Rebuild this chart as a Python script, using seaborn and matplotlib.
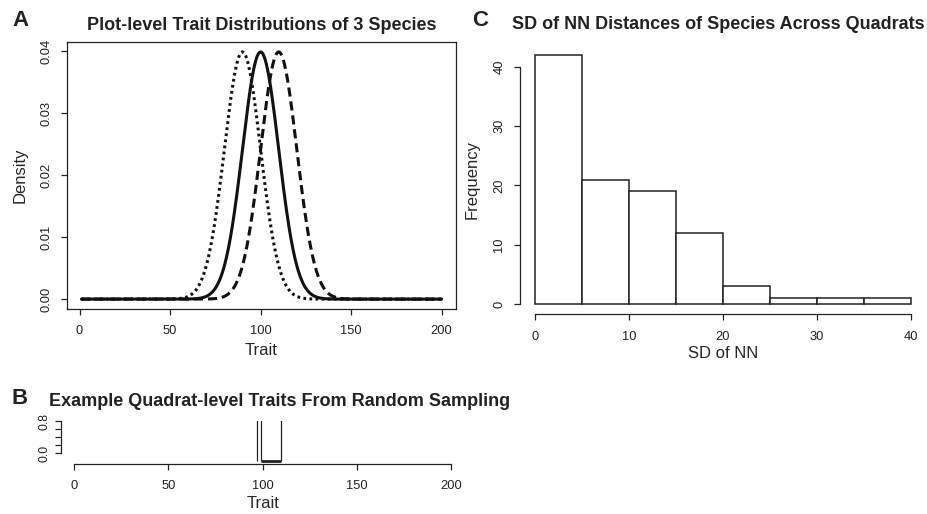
import numpy as np
import pandas as pd
import matplotlib
matplotlib.use("Agg")
import matplotlib.pyplot as plt
import seaborn as sns

# ---------------- data ----------------
# Panel A: three species trait distributions (normal densities)
species = ["sp1", "sp2", "sp3"]
species_means = [90, 100, 110]
species_sds = [10, 10, 10]
species_styles = ["dotted", "solid", "dashed"]
trait_min, trait_max = 1, 200

# Panel B: example quadrat-level traits
quadrat_traits = [97, 99, 110]

# Panel C: histogram of SD of NN distances
bin_edges = [0, 5, 10, 15, 20, 25, 30, 35, 40]
bin_counts = [42, 21, 19, 12, 3, 1, 1, 1]

# ---------------- style ----------------
sns.set_style("ticks")
plt.rcParams["font.family"] = ["Liberation Sans", "DejaVu Sans"]
plt.rcParams["axes.linewidth"] = 0.9
plt.rcParams["xtick.major.width"] = 0.9
plt.rcParams["ytick.major.width"] = 0.9
plt.rcParams["xtick.major.size"] = 4.5
plt.rcParams["ytick.major.size"] = 4.5
plt.rcParams["xtick.color"] = "#222222"
plt.rcParams["ytick.color"] = "#222222"
plt.rcParams["axes.edgecolor"] = "#222222"
plt.rcParams["text.color"] = "#222222"

W, H = 928, 514
fig = plt.figure(figsize=(W / 100, H / 100), dpi=100)


def ax_px(left, top, right, bottom):
    return fig.add_axes([left / W, 1 - bottom / H, (right - left) / W, (bottom - top) / H])


TICK_FS = 9.3
LABEL_FS = 12
TITLE_FS = 13
LETTER_FS = 16

# ---------------- Panel A ----------------
axA = ax_px(67, 42, 456, 309)
x = np.linspace(trait_min, trait_max, 400)
rows = []
for name, m, s in zip(species, species_means, species_sds):
    d = np.exp(-0.5 * ((x - m) / s) ** 2) / (s * np.sqrt(2 * np.pi))
    rows.append(pd.DataFrame({"Trait": x, "Density": d, "species": name}))
dfA = pd.concat(rows, ignore_index=True)
dash_map = {"dotted": (0.9, 1.1), "solid": "", "dashed": (3.0, 1.6)}
sns.lineplot(data=dfA, x="Trait", y="Density", style="species",
             dashes={n: dash_map[st] for n, st in zip(species, species_styles)},
             color="#111111", linewidth=2.2, legend=False, ax=axA, sort=False)
span = trait_max - trait_min
axA.set_xlim(trait_min - 0.04 * span, trait_max + 0.04 * span)
ymaxA = max(1 / (s * np.sqrt(2 * np.pi)) for s in species_sds)
axA.set_ylim(-0.04 * ymaxA, ymaxA * 1.04)
axA.set_xticks([0, 50, 100, 150, 200])
axA.set_yticks([0.00, 0.01, 0.02, 0.03, 0.04])
axA.set_yticklabels(["0.00", "0.01", "0.02", "0.03", "0.04"], rotation=90, va="center")
axA.tick_params(labelsize=TICK_FS, pad=6)
axA.tick_params(axis="x", pad=7)
axA.set_xlabel("Trait", fontsize=LABEL_FS, labelpad=4)
axA.set_ylabel("Density", fontsize=LABEL_FS, labelpad=9)
for sp in axA.spines.values():
    sp.set_visible(True)

# ---------------- Panel B ----------------
axB = ax_px(61, 421, 466, 464)
axB.vlines(quadrat_traits, -0.2, 1.0, color="#222222", linewidth=0.9)
axB.hlines(-0.2, min(quadrat_traits[1:]), max(quadrat_traits), color="#222222", linewidth=2.0)
axB.set_xlim(trait_min - 0.04 * span, trait_max + 0.04 * span)
axB.set_ylim(-0.275, 0.8)
axB.set_xticks([0, 50, 100, 150, 200])
axB.set_yticks([0.0, 0.2, 0.4, 0.6, 0.8])
axB.set_yticklabels(["0.0", "", "", "", "0.8"], rotation=90, va="center")
axB.tick_params(axis="y", labelsize=TICK_FS - 0.5, pad=3, length=4.5)
axB.tick_params(axis="x", labelsize=TICK_FS, pad=7)
axB.spines["top"].set_visible(False)
axB.spines["right"].set_visible(False)
axB.spines["left"].set_bounds(0, 0.8)
axB.spines["bottom"].set_bounds(0, 200)
axB.set_xlabel("Trait", fontsize=LABEL_FS, labelpad=3)

# ---------------- Panel C ----------------
axC = ax_px(520, 45, 926, 314)
centers = [(a + b) / 2 for a, b in zip(bin_edges[:-1], bin_edges[1:])]
dfC = pd.DataFrame({"sd": centers, "n": bin_counts})
sns.histplot(data=dfC, x="sd", weights="n", bins=bin_edges, stat="count",
             color="white", edgecolor="#222222", linewidth=1.1, alpha=1, ax=axC)
axC.set_xlim(-1.6, 41.6)
cmax = max(bin_counts)
axC.set_ylim(-0.04 * cmax, cmax * 1.04)
axC.set_xticks([0, 10, 20, 30, 40])
axC.set_yticks([0, 10, 20, 30, 40])
axC.set_yticklabels(["0", "10", "20", "30", "40"], rotation=90, va="center")
axC.tick_params(labelsize=TICK_FS, pad=6)
axC.tick_params(axis="x", pad=8)
axC.spines["top"].set_visible(False)
axC.spines["right"].set_visible(False)
axC.spines["left"].set_bounds(0, 40)
axC.spines["bottom"].set_bounds(0, 40)
axC.set_xlabel("SD of NN", fontsize=LABEL_FS, labelpad=2)
axC.set_ylabel("Frequency", fontsize=LABEL_FS, labelpad=10)

# ---------------- titles & letters ----------------
def ftext(xp, yp, s, **kw):
    fig.text(xp / W, 1 - yp / H, s, **kw)

ftext(262, 26, "Plot-level Trait Distributions of 3 Species", ha="center", va="center",
      fontsize=TITLE_FS, fontweight="bold")
ftext(49, 401, "Example Quadrat-level Traits From Random Sampling", ha="left", va="center",
      fontsize=TITLE_FS, fontweight="bold")
ftext(512, 24, "SD of NN Distances of Species Across Quadrats", ha="left", va="center",
      fontsize=TITLE_FS, fontweight="bold")
ftext(12, 20, "A", ha="left", va="center", fontsize=LETTER_FS, fontweight="bold")
ftext(12, 398, "B", ha="left", va="center", fontsize=LETTER_FS, fontweight="bold")
ftext(472, 21, "C", ha="left", va="center", fontsize=LETTER_FS, fontweight="bold")

fig.savefig("out.png", dpi=100)
